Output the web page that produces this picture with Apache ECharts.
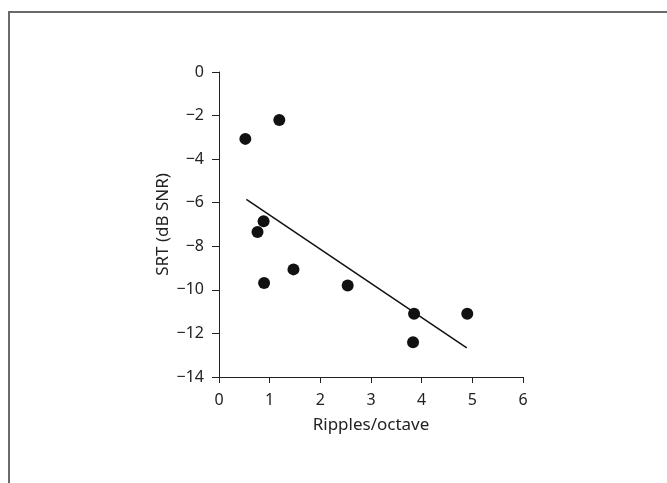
<!DOCTYPE html>
<html>
<head>
<meta charset="utf-8">
<script src="https://cdn.jsdelivr.net/npm/echarts@6/dist/echarts.min.js"></script>
<style>
    html, body { margin: 0; padding: 0; background: #fff; }
    #frame {
        position: absolute; left: 8px; top: 11px; width: 659px; height: 472px;
        border-top: 2px solid #6a6a6a; border-left: 2px solid #6a6a6a;
    }
    #main { position: absolute; left: 0; top: 0; width: 667px; height: 483px; }
</style>
</head>
<body>
<div id="frame"></div>
<div id="main"></div>
<script>
    // ripple density vs speech reception threshold
    var rippleX = [0.52, 1.19, 0.88, 0.76, 0.89, 1.47, 2.54, 3.85, 3.83, 4.90];
    var srtY = [-3.07, -2.2, -6.85, -7.34, -9.68, -9.06, -9.8, -11.1, -12.4, -11.1];

    // fitted line end points
    var fitX = [0.54, 4.89];
    var fitY = [-5.85, -12.66];

    var xTicks = [0, 1, 2, 3, 4, 5, 6];
    var yTicks = [0, -2, -4, -6, -8, -10, -12, -14];

    var points = rippleX.map(function (x, i) { return [x, srtY[i]]; });
    var fit = fitX.map(function (x, i) { return [x, fitY[i]]; });

    var font = 'Noto Sans';
    var chart = echarts.init(document.getElementById('main'));

    var option = {
        animation: false,
        grid: { left: 219, top: 72, right: 144, bottom: 106 },
        xAxis: {
            type: 'value',
            min: xTicks[0], max: xTicks[xTicks.length - 1], interval: 1,
            name: 'Ripples/octave',
            nameLocation: 'middle',
            nameGap: 40,
            nameTextStyle: { fontFamily: font, fontSize: 17, color: '#222' },
            axisLine: { onZero: false, lineStyle: { color: '#222', width: 1 } },
            axisTick: { length: 6, lineStyle: { color: '#222' } },
            axisLabel: { margin: 15, fontFamily: font, fontSize: 16, color: '#222' },
            splitLine: { show: false }
        },
        yAxis: {
            type: 'value',
            min: yTicks[yTicks.length - 1], max: yTicks[0], interval: 2,
            name: 'SRT (dB SNR)',
            nameLocation: 'middle',
            nameGap: 47,
            nameTextStyle: { fontFamily: font, fontSize: 17, color: '#222' },
            axisLine: { show: true, onZero: false, lineStyle: { color: '#222', width: 1 } },
            axisTick: { show: true, length: 7, lineStyle: { color: '#222' } },
            axisLabel: {
                margin: 15, fontFamily: font, fontSize: 16, color: '#222',
                formatter: function (v) { return v < 0 ? '\u2212' + Math.abs(v) : String(v); }
            },
            splitLine: { show: false }
        },
        series: [
            {
                type: 'line',
                data: fit,
                symbol: 'none',
                lineStyle: { color: '#111', width: 1.5 },
                z: 1
            },
            {
                type: 'scatter',
                data: points,
                symbolSize: 12,
                itemStyle: { color: '#111', opacity: 1 },
                z: 2
            }
        ]
    };
    chart.setOption(option);
</script>
</body>
</html>
